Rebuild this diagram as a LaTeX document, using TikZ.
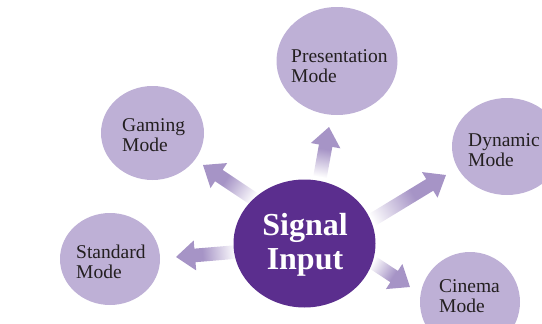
\documentclass[tikz,border=0pt]{standalone}
\usepackage{fontspec}
\setmainfont{Liberation Serif}
\usetikzlibrary{shapes.geometric,calc}
\definecolor{hubc}{HTML}{5B2E8E}
\definecolor{modec}{HTML}{BEB0D6}
\definecolor{arrowc}{HTML}{A694C6}
\definecolor{inkc}{HTML}{231F20}
\pgfdeclarehorizontalshading{arrowshade}{100bp}{color(0bp)=(white); color(25bp)=(white); color(53bp)=(arrowc); color(100bp)=(arrowc)}
\newcommand\gradarrow[2]{%
  \path let \p1=($(#2)-(#1)$) in \pgfextra{\pgfmathsetmacro\garAng{atan2(\y1,\x1)}\pgfmathsetmacro\garLen{veclen(\x1,\y1)}\xdef\garAng{\garAng}\xdef\garLen{\garLen}};
  \begin{scope}[transform canvas={shift={(#1)},rotate=\garAng}]
    \shade[shading=arrowshade] (0pt,-6.8pt) -- ({\garLen pt-19pt},-6.8pt) -- ({\garLen pt-19pt},-15pt) -- (\garLen pt,0pt) -- ({\garLen pt-19pt},15pt) -- ({\garLen pt-19pt},6.8pt) -- (0pt,6.8pt) -- cycle;
  \end{scope}}
\tikzset{
  modeball/.style={ellipse, fill=modec, draw=none, inner sep=0pt},
  hubball/.style={ellipse, fill=hubc, draw=none, inner sep=0pt},
  modetext/.style={align=left, inner sep=0pt, text=inkc, font=\fontsize{19.5}{20}\selectfont, anchor=west},
  hubtext/.style={align=center, inner sep=0pt, text=white, font=\fontsize{32}{34}\selectfont\bfseries}
}
\begin{document}
\begin{tikzpicture}[x=1pt,y=-1pt]
\useasboundingbox (0,0) rectangle (542,324);
% arrow ends
\coordinate (t1) at (320,177); \coordinate (h1) at (329,127);
\coordinate (t2) at (254,199); \coordinate (h2) at (203,165);
\coordinate (t3) at (372,220); \coordinate (h3) at (446,175);
\coordinate (t4) at (236,252); \coordinate (h4) at (176,257);
\coordinate (t5) at (372,262); \coordinate (h5) at (410,287);
\gradarrow{t1}{h1}
\gradarrow{t2}{h2}
\gradarrow{t3}{h3}
\gradarrow{t4}{h4}
\gradarrow{t5}{h5}
% mode balls
\node[modeball, minimum width=121pt, minimum height=108pt] (pres) at (337,61) {};
\node[modeball, minimum width=110pt, minimum height=97pt] (dyn) at (507,146.5) {};
\node[modeball, minimum width=100pt, minimum height=100pt] (cin) at (470,302) {};
\node[modeball, minimum width=103pt, minimum height=94pt] (gam) at (152.5,133) {};
\node[modeball, minimum width=100pt, minimum height=92pt] (std) at (110,259) {};
\node[hubball, minimum width=142pt, minimum height=128pt] (hub) at (304.5,243.5) {};
% texts
\node[modetext] (prest) at (291,66.5) {Presentation\\Mode};
\node[modetext] (dynt) at (468,150.5) {Dynamic\\Mode};
\node[modetext] (cint) at (439,296.5) {Cinema\\Mode};
\node[modetext] (gamt) at (122,135.5) {Gaming\\Mode};
\node[modetext] (stdt) at (76,261.5) {Standard\\Mode};
\node[hubtext] (hubt) at (305,245) {Signal\\Input};
\end{tikzpicture}
\end{document}
